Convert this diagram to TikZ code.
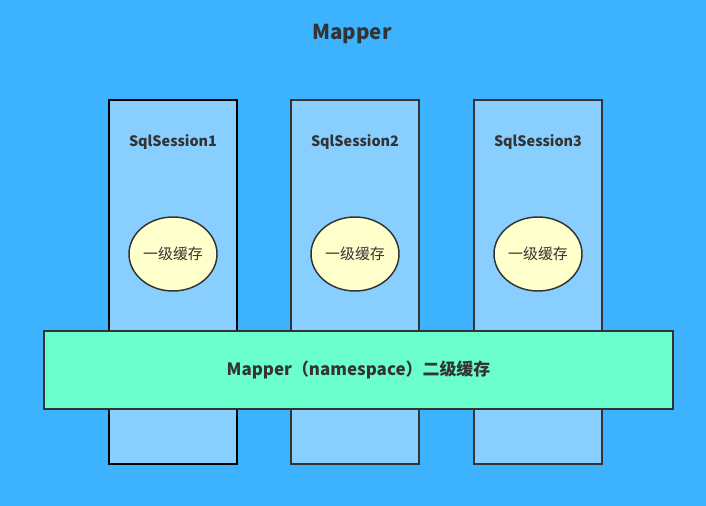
\documentclass[tikz,border=0pt]{standalone}
\usepackage{fontspec}
\setmainfont{Noto Sans CJK SC}
\usetikzlibrary{positioning,shapes.geometric}
\definecolor{mapperbg}{RGB}{61,178,255}
\definecolor{sessionblue}{RGB}{136,206,255}
\definecolor{cacheyellow}{RGB}{255,255,204}
\definecolor{mappergreen}{RGB}{108,255,206}
\definecolor{inkgray}{RGB}{51,51,51}

\begin{document}
\begin{tikzpicture}[
    x=0.75pt, y=-0.75pt,
    session/.style={draw=inkgray, line width=1.1pt, fill=sessionblue, inner sep=0pt,
        minimum width=96pt, minimum height=273pt},
    sessiontext/.style={font=\bfseries\fontsize{10.8}{13}\selectfont, text=inkgray},
    cache/.style={ellipse, draw=inkgray, line width=1.1pt, fill=cacheyellow, inner sep=0pt,
        minimum width=66pt, minimum height=55.5pt, font=\fontsize{11.2}{13}\selectfont, text=inkgray},
    secondlevel/.style={draw=inkgray, line width=1.1pt, fill=mappergreen, inner sep=0pt,
        minimum width=471.75pt, minimum height=58.5pt, font=\bfseries\fontsize{12.7}{15}\selectfont, text=inkgray}
]
\useasboundingbox (0,0) rectangle (706,506);
\fill[mapperbg] (0,0) rectangle (706,506);

\node[font=\bfseries\fontsize{15.4}{18}\selectfont, text=inkgray] (title) at (352,34) {Mapper};

\node[session, draw=black, line width=1.5pt] (session1) at (173,282) {};
\node[session] (session2) at (355,282) {};
\node[session] (session3) at (538,282) {};

\node[sessiontext, below=23pt of session1.north] (name1) {SqlSession1};
\node[sessiontext, below=23pt of session2.north] (name2) {SqlSession2};
\node[sessiontext, below=23pt of session3.north] (name3) {SqlSession3};

\node[cache] (cache1) at (173,254) {一级缓存};
\node[cache] (cache2) at (355,254) {一级缓存};
\node[cache] (cache3) at (538,254) {一级缓存};

\node[secondlevel] (mapperbar) at (358.5,370) {Mapper（namespace）二级缓存};
\end{tikzpicture}
\end{document}
